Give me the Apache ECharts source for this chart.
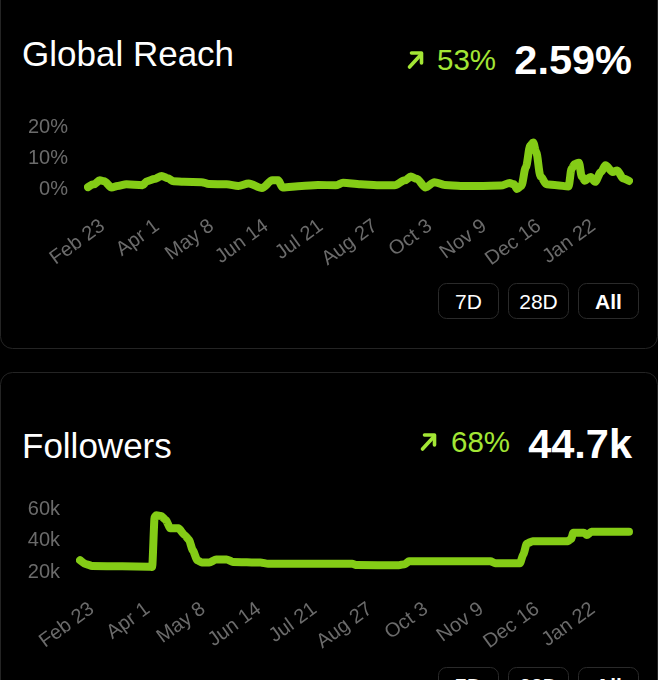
<!DOCTYPE html>
<html>
<head>
<meta charset="utf-8">
<script src="https://cdn.jsdelivr.net/npm/echarts@6/dist/echarts.min.js"></script>
<style>
  html, body { margin:0; padding:0; background:#000; }
  body { width:658px; height:680px; overflow:hidden; position:relative; font-family:'Liberation Sans', Arial, sans-serif; }
  #deco { position:absolute; left:0; top:0; }
  #chart { position:absolute; left:0; top:0; width:658px; height:680px; }
</style>
</head>
<body>
<svg id="deco" width="658" height="680" xmlns="http://www.w3.org/2000/svg" font-family="'Liberation Sans', Arial, sans-serif">
  <!-- card 1 -->
  <rect x="0.5" y="-30" width="657" height="378.5" rx="12" fill="#000" stroke="#242424" stroke-width="1"/>
  <text x="22" y="66" font-size="35" fill="#ffffff">Global Reach</text>
  <g transform="translate(407,50)" stroke="#a3e635" stroke-width="3.6" stroke-linecap="round" stroke-linejoin="round" fill="none">
    <path d="M2.5 17 L14 4.5"/>
    <path d="M4.5 3 L14.5 3 L14.5 13"/>
  </g>
  <text x="437" y="70" font-size="29.5" fill="#a3e635">53%</text>
  <text x="632" y="74" font-size="41.5" font-weight="bold" fill="#ffffff" text-anchor="end">2.59%</text>
  <g stroke="#2a2a2a" stroke-width="1" fill="none">
    <rect x="438.5" y="283.5" width="60" height="35" rx="8"/>
    <rect x="508.5" y="283.5" width="60" height="35" rx="8"/>
    <rect x="578.5" y="283.5" width="60" height="35" rx="8"/>
  </g>
  <g font-size="21" fill="#ffffff" text-anchor="middle">
    <text x="468.5" y="309">7D</text>
    <text x="538.5" y="309">28D</text>
    <text x="608.5" y="309" font-weight="bold">All</text>
  </g>

  <!-- card 2 -->
  <rect x="0.5" y="372.5" width="657" height="400" rx="12" fill="#000" stroke="#242424" stroke-width="1"/>
  <text x="22" y="458" font-size="35" fill="#ffffff">Followers</text>
  <g transform="translate(420,432)" stroke="#a3e635" stroke-width="3.6" stroke-linecap="round" stroke-linejoin="round" fill="none">
    <path d="M2.5 17 L14 4.5"/>
    <path d="M4.5 3 L14.5 3 L14.5 13"/>
  </g>
  <text x="451" y="452" font-size="29.5" fill="#a3e635">68%</text>
  <text x="632" y="458" font-size="41.5" font-weight="bold" fill="#ffffff" text-anchor="end">44.7k</text>
  <g stroke="#2a2a2a" stroke-width="1" fill="none">
    <rect x="438.5" y="667.5" width="60" height="35" rx="8"/>
    <rect x="508.5" y="667.5" width="60" height="35" rx="8"/>
    <rect x="578.5" y="667.5" width="60" height="35" rx="8"/>
  </g>
  <g font-size="21" fill="#ffffff" text-anchor="middle">
    <text x="468.5" y="693">7D</text>
    <text x="538.5" y="693">28D</text>
    <text x="608.5" y="693" font-weight="bold">All</text>
  </g>
</svg>
<div id="chart"></div>
<script>
// Days counted from Feb 23 (first tick label)
const tickDays = [0, 37, 74, 111, 148, 185, 222, 259, 296, 333];
const tickLabels = ['Feb 23', 'Apr 1', 'May 8', 'Jun 14', 'Jul 21', 'Aug 27', 'Oct 3', 'Nov 9', 'Dec 16', 'Jan 22'];

const reachDays = [-10, -6, -2, 1, 6, 10, 16, 27, 30, 35, 40, 44, 48, 55, 67, 72, 84, 92, 99, 108,
  115, 119, 122, 135, 146, 158, 163, 175, 186, 198, 205, 209, 213, 219, 225, 232, 243, 257, 270, 276,
  279, 281, 284, 287, 290, 292, 294, 297, 301, 308, 316, 318, 320, 323, 325, 327, 331, 334, 338, 341,
  346, 349, 353, 357];
const reachValues = [0.6, 1.5, 2.8, 2.5, 0.5, 1.0, 1.5, 1.2, 2.5, 3.2, 4.2, 3.5, 2.5, 2.3, 2.2, 1.6, 1.5, 1.0, 1.8, 0.3,
  2.8, 2.8, 0.5, 1.0, 1.3, 1.2, 2.0, 1.5, 1.2, 1.2, 2.8, 4.0, 3.3, 0.5, 2.2, 1.3, 1.0, 1.0, 1.1, 1.9,
  1.5, 0.0, 1.0, 7, 14, 15, 12, 4, 1.5, 1.2, 0.8, 6.5, 8.0, 8.5, 4.0, 2.7, 3.9, 2.3, 5.5, 7.7,
  5.5, 6.0, 3.4, 2.6];

const followerDays = [-8, -4, 0, 20, 38, 40, 41.6, 42.7, 46, 49, 52, 57.5, 61.6, 64.4, 67, 70, 73, 78, 82.5, 89.5,
  93.7, 112, 117, 173, 176, 204, 208, 210.7, 265, 268, 284.5, 286.7, 289, 293, 316.5, 318.5, 320, 327, 329, 332, 357];
const followerValues = [27500, 25000, 23800, 23600, 23400, 23200, 55000, 56000, 55500, 53000, 47700, 47700, 43400, 40500, 33800, 27400, 26000, 26000, 28000, 28000,
  26400, 26000, 25200, 25200, 24400, 24300, 25000, 26800, 26800, 25600, 25600, 31000, 38000, 39600, 39600, 41000, 45000, 45000, 43500, 45500, 45500];

const FONT = "'Liberation Sans', Arial, sans-serif";
const GRAY = '#6b6b6b';
const GREEN = '#84cc16';

function xAxisFor(grid, min, max) {
  return {
    gridIndex: grid, type: 'value', min: min, max: max,
    axisLine: { show: false }, axisTick: { show: false }, splitLine: { show: false },
    axisLabel: {
      customValues: tickDays,
      formatter: function (v) { const i = tickDays.indexOf(v); return i >= 0 ? tickLabels[i] : ''; },
      rotate: 36, color: GRAY, fontSize: 20, fontFamily: FONT, margin: 35
    }
  };
}

const chart = echarts.init(document.getElementById('chart'), null, { renderer: 'canvas' });
chart.setOption({
  animation: false,
  backgroundColor: 'transparent',
  grid: [
    { left: 88, right: 29, top: 127, height: 62 },
    { left: 80, right: 29, top: 509, height: 63 }
  ],
  xAxis: [xAxisFor(0, -10, 357), xAxisFor(1, -8, 357)],
  yAxis: [
    { gridIndex: 0, type: 'value', min: 0, max: 20, interval: 10,
      axisLine: { show: false }, axisTick: { show: false }, splitLine: { show: false },
      axisLabel: { formatter: '{value}%', color: GRAY, fontSize: 20, fontFamily: FONT, margin: 20 } },
    { gridIndex: 1, type: 'value', min: 20000, max: 60000, interval: 20000,
      axisLine: { show: false }, axisTick: { show: false }, splitLine: { show: false },
      axisLabel: { formatter: function (v) { return (v / 1000) + 'k'; }, color: GRAY, fontSize: 20, fontFamily: FONT, margin: 20 } }
  ],
  series: [
    { type: 'line', xAxisIndex: 0, yAxisIndex: 0, clip: false, silent: true,
      data: reachDays.map(function (d, i) { return [d, reachValues[i]]; }),
      showSymbol: false, smooth: 0.3, smoothMonotone: 'x',
      lineStyle: { color: GREEN, width: 8, cap: 'round', join: 'round' } },
    { type: 'line', xAxisIndex: 1, yAxisIndex: 1, clip: false, silent: true,
      data: followerDays.map(function (d, i) { return [d, followerValues[i]]; }),
      showSymbol: false, smooth: 0.2, smoothMonotone: 'x',
      lineStyle: { color: GREEN, width: 8, cap: 'round', join: 'round' } }
  ]
});
</script>
</body>
</html>
